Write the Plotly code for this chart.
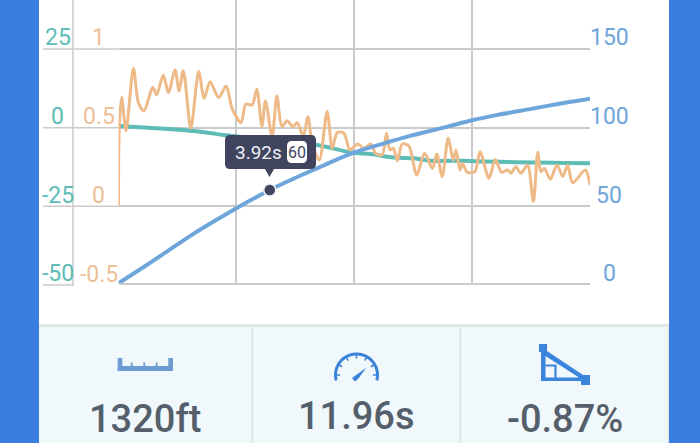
import numpy as np
import plotly.graph_objects as go

# ---------- data ----------
accel_t = [0, .02, .08, .19, .38, .51, .65, .87, .97, 1.14, 1.27, 1.44, 1.54, 1.65, 1.84, 2.04, 2.18, 2.33, 2.55, 2.74,
           2.89, 3.12, 3.24, 3.40, 3.52, 3.65, 3.74, 3.91, 4.03, 4.16, 4.29, 4.44, 4.55, 4.70, 4.82, 4.93, 5.11, 5.31,
           5.44, 5.57, 5.74, 5.89, 6.08, 6.25, 6.42, 6.54, 6.71, 6.82, 6.91, 6.99, 7.10, 7.22, 7.39, 7.59, 7.79, 7.99,
           8.10, 8.24, 8.39, 8.52, 8.59, 8.69, 8.75, 8.88, 9.07, 9.20, 9.43, 9.59, 9.75, 9.90, 9.99, 10.11, 10.24,
           10.41, 10.56, 10.67, 10.75, 10.84, 10.99, 11.16, 11.31, 11.43, 11.56, 11.88, 12.0]
accel_g = [0.0, .506, .693, .481, .877, .655, .606, .756, .708, .835, .722, .867, .735, .862, .496, .856, .686, .792,
           .691, .765, .623, .532, .650, .644, .744, .506, .670, .443, .701, .506, .544, .506, .532, .443, .570, .400,
           .294, .602, .369, .470, .464, .358, .396, .369, .396, .337, .326, .464, .358, .369, .290, .396, .383, .199,
           .337, .241, .333, .189, .432, .294, .358, .231, .273, .216, .220, .347, .178, .299, .216, .231, .210, .252,
           .210, .263, .030, .343, .220, .241, .172, .263, .189, .263, .150, .231, .135]
speed_t = [0, .72, 1.23, 1.82, 2.42, 3.0, 3.85, 4.46, 5.06, 5.89, 6.76, 7.44, 8.37, 8.97, 9.65, 10.5, 11.18, 12.0]
speed_mph = [1.1, 12.7, 21.2, 31.1, 40.3, 48.8, 60.4, 67.6, 74.2, 83.2, 90.0, 94.9, 100.6, 104.5, 108.1, 111.9, 115, 118.4]
slope_t = [.02, .55, 2.08, 2.68, 5.06, 5.89, 6.42, 7.01, 7.52, 7.95, 8.8, 9.14, 12.0]
slope_pct = [.5, .1, -1.27, -2.33, -5.5, -7.84, -8.4, -9.5, -9.75, -10.5, -10.5, -10.7, -11.3]

grid_t = [0, 3, 6, 9, 12]
speed_ticks = [0, 50, 100, 150]
accel_ticks = [-0.5, 0, 0.5, 1]
slope_ticks = [-50, -25, 0, 25]
marker_t = [3.85]
marker_speed = [60.4]
tip_time = "3.92s"
tip_speed = "60"
stats = ["1320ft", "11.96s", "-0.87%"]

GRID = "#cbcbcb"; TEAL = "#5dbdb6"; ORANGE = "#edba88"; BLUE = "#6ea6dc"; DARK = "#40445f"
SIDE = "#3a7fe0"; ICON = "#3b84dc"; TEXT = "#545f6b"; FONT = "Roboto"
DOM0_PX = 283.3
SLOPE_RANGE = [-49.46, 40.57]
ACCEL_RANGE = [-0.489, 1.311]
SPEED_RANGE = [1.08, 181.1]


def X(p):
    return p / 700


def Y(p):
    return 1 - p / 443


def val_paper(v, rng):
    d0 = Y(DOM0_PX)
    return d0 + (v - rng[0]) / (rng[1] - rng[0]) * (1 - d0)


def path(points, close=False):
    s = "M" + " L".join(f"{X(a):.5f},{Y(b):.5f}" for a, b in points)
    return s + (" Z" if close else "")


def rrect(x0, y0, x1, y1, r):
    a = lambda x, y: f"{X(x):.5f},{Y(y):.5f}"
    return (f"M{a(x0+r,y0)} L{a(x1-r,y0)} Q{a(x1,y0)} {a(x1,y0+r)} L{a(x1,y1-r)} Q{a(x1,y1)} {a(x1-r,y1)} "
            f"L{a(x0+r,y1)} Q{a(x0,y1)} {a(x0,y1-r)} L{a(x0,y0+r)} Q{a(x0,y0)} {a(x0+r,y0)} Z")


def rect(x0, y0, x1, y1, fill):
    return dict(type="rect", xref="paper", yref="paper", x0=X(x0), x1=X(x1), y0=Y(y0), y1=Y(y1),
                fillcolor=fill, line_width=0, layer="below")


def stroke(points, color, w):
    return dict(type="path", xref="paper", yref="paper", path=path(points), line=dict(color=color, width=w))


def fill(points, color):
    return dict(type="path", xref="paper", yref="paper", path=path(points, True), fillcolor=color, line_width=0)


fig = go.Figure()
fig.add_trace(go.Scatter(x=slope_t, y=slope_pct, xaxis="x", yaxis="y", mode="lines", hoverinfo="skip",
                         line=dict(color=TEAL, width=4, shape="spline")))
fig.add_trace(go.Scatter(x=accel_t, y=accel_g, xaxis="x", yaxis="y2", mode="lines", hoverinfo="skip",
                         line=dict(color=ORANGE, width=3, shape="spline", smoothing=0.8)))
fig.add_trace(go.Scatter(x=speed_t, y=speed_mph, xaxis="x", yaxis="y3", mode="lines", hoverinfo="skip",
                         line=dict(color=BLUE, width=4, shape="spline")))
fig.add_trace(go.Scatter(x=marker_t, y=marker_speed, xaxis="x", yaxis="y3", mode="markers", hoverinfo="skip",
                         marker=dict(color=DARK, size=12, line=dict(color="#eef1f6", width=1.5))))

shapes = [rect(0, 0, 39, 443, SIDE), rect(669, 0, 700, 443, SIDE),
          rect(39, 327, 669, 443, "#f1f8fb"), rect(39, 324, 669, 327, "#dfe7e8"),
          rect(251.5, 327, 253, 443, "#d8e2e6"), rect(459.5, 327, 461, 443, "#d8e2e6"),
          rect(667.5, 327, 669, 443, "#e2ebef")]

# left-hand tick stubs beneath the slope and acceleration labels
for v in slope_ticks:
    yp = val_paper(v, SLOPE_RANGE)
    shapes.append(dict(type="line", xref="paper", yref="paper", x0=X(43), x1=X(73 if v == -50 else 118.5), y0=yp, y1=yp,
                       line=dict(color=GRID, width=1.5), layer="below"))
shapes.append(dict(type="line", xref="paper", yref="paper", x0=X(73), x1=X(73), y0=Y(0), y1=Y(286),
                   line=dict(color=GRID, width=1.5), layer="below"))

# tooltip
shapes.append(dict(type="path", xref="paper", yref="paper", path=rrect(225, 135, 316, 169, 5), fillcolor=DARK, line_width=0))
shapes.append(fill([(265, 169), (274, 169), (269.5, 177)], DARK))
shapes.append(dict(type="path", xref="paper", yref="paper", path=rrect(287, 141, 307, 163, 5), fillcolor="white", line_width=0))

# ruler icon
RULER = "#6d9bd2"
shapes.append(rect(117.7, 366, 173, 371, RULER) | {"layer": "above"})
shapes.append(rect(117.7, 358, 122.3, 371, RULER) | {"layer": "above"})
shapes.append(rect(168.3, 358, 173, 371, RULER) | {"layer": "above"})
for xp in [131.7, 144.3, 156.7]:
    shapes.append(stroke([(xp, 362.5), (xp, 367)], RULER, 1.8))

# gauge icon
theta = np.radians(np.linspace(-15, 195, 40))
cx, cy, rad = 356.5, 375, 21
shapes.append(stroke([(cx + rad * np.cos(t), cy - rad * np.sin(t)) for t in theta], ICON, 3))
for deg in [0, 30, 60, 90, 120, 150, 180]:
    t = np.radians(deg)
    shapes.append(stroke([(cx + rad * np.cos(t), cy - rad * np.sin(t)),
                          (cx + (rad - 4.5) * np.cos(t), cy - (rad - 4.5) * np.sin(t))], ICON, 1.5))
shapes.append(fill([(352, 378), (355, 381.5), (358, 379), (366.5, 367.5)], ICON))

# slope icon
shapes.append(fill([(539, 344), (547, 344), (547, 351), (583, 375), (590, 375), (590, 385), (581, 385), (581, 381),
                    (541, 381), (541, 352), (539, 352)], ICON))
shapes.append(fill([(545.5, 356), (579, 377.5), (545.5, 377.5)], "#f1f8fb"))
shapes.append(stroke([(545.5, 365.5), (555.5, 365.5), (555.5, 378)], ICON, 2.2))

ann = []


def pxtext(txt, xp, yp, size, color, weight=400):
    ann.append(dict(text=txt, x=X(xp), xref="paper", y=yp, yref="paper", showarrow=False,
                    xanchor="center", yanchor="middle", font=dict(family=FONT, size=size, color=color, weight=weight)))


for v in slope_ticks:
    pxtext(str(v), 58, val_paper(v, SLOPE_RANGE) + 11 / 443, 23, TEAL)
for v in accel_ticks:
    pxtext(f"{v:g}", 98.5, val_paper(v, ACCEL_RANGE) + 11 / 443, 23, "#edc097")
for v in speed_ticks:
    pxtext(str(v), 609, val_paper(v, SPEED_RANGE) + 11 / 443, 23, BLUE)

pxtext(tip_time, 258, Y(152), 19, "#eef0f5")
pxtext(tip_speed, 297, Y(152), 16, DARK)
for txt, xp, yp in zip(stats, [145, 356.5, 565], [419, 416, 419]):
    pxtext(txt, xp, Y(yp), 38, TEXT, 500)

base = dict(domain=[Y(DOM0_PX), 1], showline=False, zeroline=False, showticklabels=False, ticks="")
fig.update_layout(
    width=700, height=443, margin=dict(l=0, r=0, t=0, b=0), paper_bgcolor="white", plot_bgcolor="white",
    showlegend=False, shapes=shapes, annotations=ann,
    xaxis=dict(domain=[X(118.5), X(590)], range=[0, 12], tickvals=grid_t, showgrid=True, gridcolor=GRID, gridwidth=1.5,
               zeroline=False, showticklabels=False, ticks="", showline=True, linecolor=GRID, linewidth=1.5, mirror=False),
    yaxis=dict(range=SLOPE_RANGE, tickvals=slope_ticks, showgrid=True, gridcolor=GRID, gridwidth=1.5, **base),
    yaxis2=dict(range=ACCEL_RANGE, overlaying="y", tickvals=accel_ticks, showgrid=False, **base),
    yaxis3=dict(range=SPEED_RANGE, overlaying="y", tickvals=speed_ticks, showgrid=False, **base),
)
fig.write_html("out.html", config={"displayModeBar": False},
               post_script="document.body.style.margin='0';document.body.style.overflow='hidden';")
